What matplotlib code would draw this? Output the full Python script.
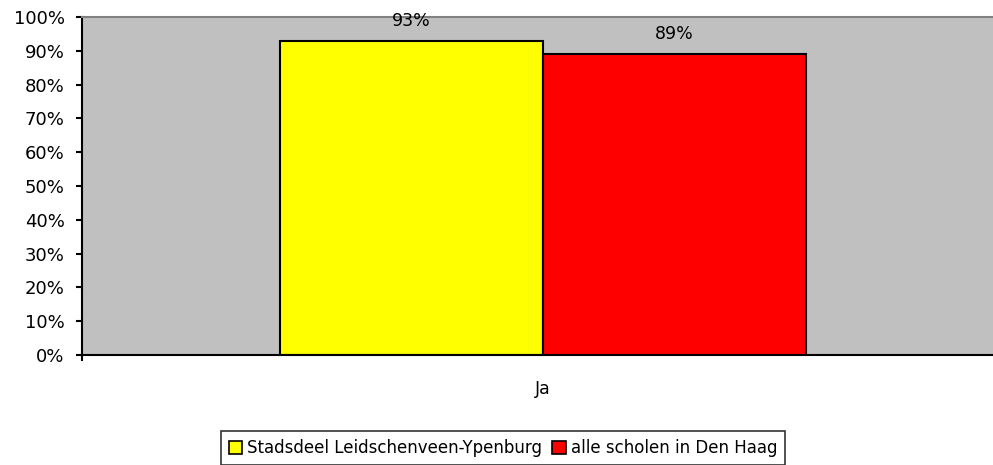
import numpy as np
import matplotlib.pyplot as plt
from matplotlib.ticker import PercentFormatter

categories = ['Ja']
series_names = ['Stadsdeel Leidschenveen-Ypenburg', 'alle scholen in Den Haag']
series_values = [93, 89]
series_colors = ['#FFFF00', '#FF0000']
value_labels = ['93%', '89%']

W, H = 993, 465
fig = plt.figure(figsize=(W / 100, H / 100), dpi=100)
# plot area extends slightly beyond right figure edge, as in the original
ax = fig.add_axes([82 / W, 1 - 355 / H, (1004 - 82) / W, (355 - 17) / H])
ax.set_facecolor('#C0C0C0')

bar_w = 263 / 922
offsets = [-bar_w / 2, bar_w / 2]
x = np.arange(len(categories))
bars = []
for off, val, col, name in zip(offsets, series_values, series_colors, series_names):
    b = ax.bar(x + off, [val], width=bar_w, color=col, edgecolor='black',
               linewidth=1.5, label=name)
    bars.append(b)

for b, lab in zip(bars, value_labels):
    r = b[0]
    ax.annotate(lab, (r.get_x() + r.get_width() / 2, r.get_height()),
                xytext=(0, 8), textcoords='offset points', ha='center',
                va='bottom', fontsize=12.5)

ax.set_xlim(-0.5, 0.5)
ax.set_ylim(0, 100)
ax.set_yticks(np.arange(0, 101, 10))
ax.yaxis.set_major_formatter(PercentFormatter(decimals=0))
ax.set_xticks([-0.5])
ax.set_xticklabels([''])
ax.text(0, -0.1, categories[0], transform=ax.get_xaxis_transform(),
        ha='center', va='center', fontsize=12.5)

ax.tick_params(axis='y', direction='out', length=4.5, width=1.5, labelsize=13, pad=8)
ax.tick_params(axis='x', direction='out', length=4.5, width=1.5)
ax.spines['left'].set_linewidth(1.5)
ax.spines['bottom'].set_linewidth(1.5)
ax.spines['top'].set_color('#808080')
ax.spines['top'].set_linewidth(1.5)
ax.spines['right'].set_visible(False)

leg = fig.legend(loc='center', bbox_to_anchor=(503 / W, 1 - 448 / H), ncol=2,
                 frameon=True, fancybox=False, edgecolor='black', fontsize=12,
                 handlelength=0.8, handleheight=0.8, handletextpad=0.3,
                 columnspacing=0.6, borderpad=0.5)
leg.get_frame().set_linewidth(1.2)
for h in leg.legend_handles:
    h.set_linewidth(1.2)

fig.savefig('out.png', dpi=100)
